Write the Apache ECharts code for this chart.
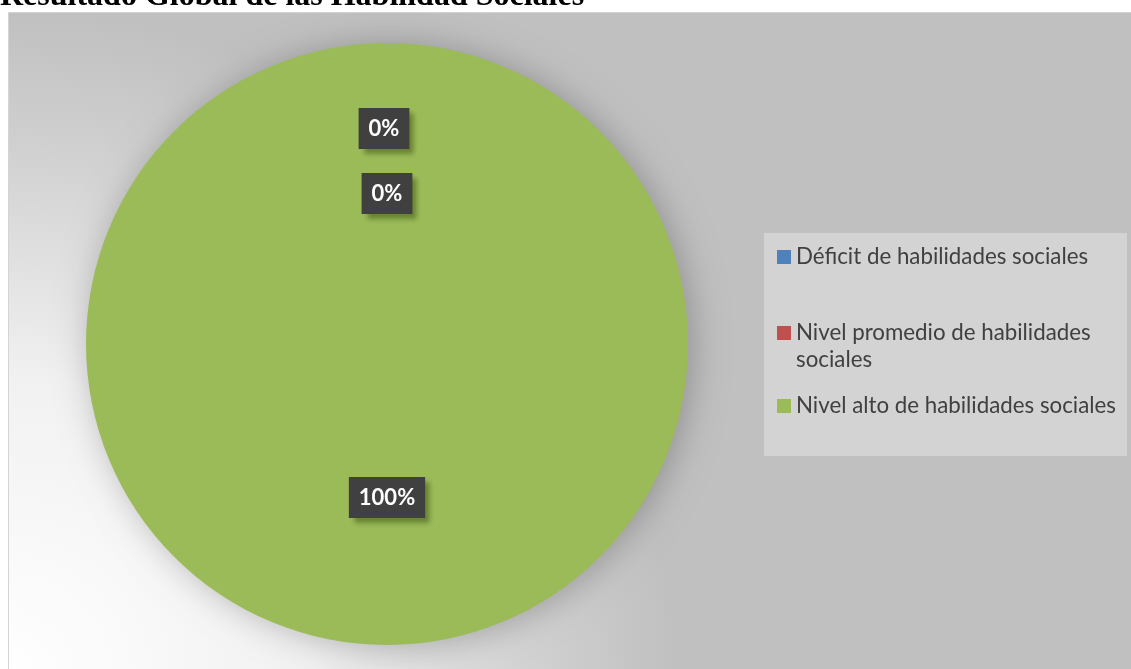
<!DOCTYPE html>
<html>
<head>
<meta charset="utf-8">
<script src="https://cdn.jsdelivr.net/npm/echarts@6/dist/echarts.min.js"></script>
<style>
  html, body { margin: 0; padding: 0; background: #ffffff; }
  #chart { width: 1131px; height: 669px; }
</style>
</head>
<body>
<div id="chart"></div>
<script>
// Global result of social skills (percent of respondents per level)
const titleText = 'Resultado Global de las Habilidad Sociales';
const categories = [
  'Déficit de habilidades sociales',
  'Nivel promedio de habilidades sociales',
  'Nivel alto de habilidades sociales'
];
const percentages = [0, 0, 100];
const sliceColors = ['#4f81bd', '#c0504d', '#9bbb59'];

const chart = echarts.init(document.getElementById('chart'), null, { renderer: 'canvas' });

const labelFont = 'Lato, "Open Sans", sans-serif';

// one legend per entry so each can sit at its own height inside the legend box
const legendTops = [243.5, 292.5, 392.5];
const legends = categories.map((name, i) => ({
  data: [name],
  orient: 'vertical',
  left: 777,
  top: legendTops[i],
  padding: 0,
  icon: 'rect',
  itemWidth: 14,
  itemHeight: 14,
  itemGap: 0,
  selectedMode: false,
  // the wrapped entry gets an empty leading line so its marker lines up with the first text line
  formatter: n => n === 'Nivel promedio de habilidades sociales'
    ? ' \nNivel promedio de habilidades\nsociales' : n,
  textStyle: {
    fontFamily: labelFont,
    fontSize: 22.3,
    color: '#404040',
    lineHeight: 27
  }
}));

const option = {
  animation: false,
  backgroundColor: '#ffffff',
  graphic: [
    {
      type: 'rect',
      z: -10,
      shape: { x: 8.5, y: 12.5, width: 1130, height: 665 },
      style: {
        fill: {
          type: 'radial', x: 0, y: 1, r: 1,
          colorStops: [
            { offset: 0, color: '#ffffff' },
            { offset: 0.45, color: '#f1f1f1' },
            { offset: 0.8, color: '#d0d0d0' },
            { offset: 1, color: '#c0c0c0' }
          ]
        },
        stroke: '#d4d4d4',
        lineWidth: 1
      }
    },
    {
      type: 'rect',
      z: -5,
      shape: { x: 764, y: 233, width: 363, height: 223 },
      style: { fill: '#d3d3d3' }
    },
    {
      type: 'text',
      left: 0,
      top: -19,
      style: {
        text: titleText,
        fontFamily: '"Liberation Serif", "Times New Roman", serif',
        fontWeight: 'bold',
        fontSize: 32,
        fill: '#000000'
      }
    }
  ],
  legend: legends,
  series: [
    {
      type: 'pie',
      center: [387, 344],
      radius: 301,
      startAngle: 90,
      clockwise: true,
      avoidLabelOverlap: false,
      silent: true,
      itemStyle: {
        shadowBlur: 35,
        shadowColor: 'rgba(0,0,0,0.25)',
        shadowOffsetX: 4,
        shadowOffsetY: 2
      },
      label: {
        show: true,
        position: 'inside',
        formatter: '{d}%',
        fontFamily: labelFont,
        fontWeight: 'bold',
        fontSize: 22,
        color: '#ffffff',
        backgroundColor: '#404040',
        padding: [10, 10, 9, 10],
        shadowColor: 'rgba(40,60,0,0.45)',
        shadowBlur: 5,
        shadowOffsetX: 5,
        shadowOffsetY: 5
      },
      labelLine: { show: false },
      data: categories.map((name, i) => ({
        name,
        value: percentages[i],
        itemStyle: { color: sliceColors[i] },
        label: i === 0 ? { offset: [-3, -62] } : (i === 1 ? { offset: [0, 3] } : {})
      }))
    }
  ]
};

chart.setOption(option);
</script>
</body>
</html>
